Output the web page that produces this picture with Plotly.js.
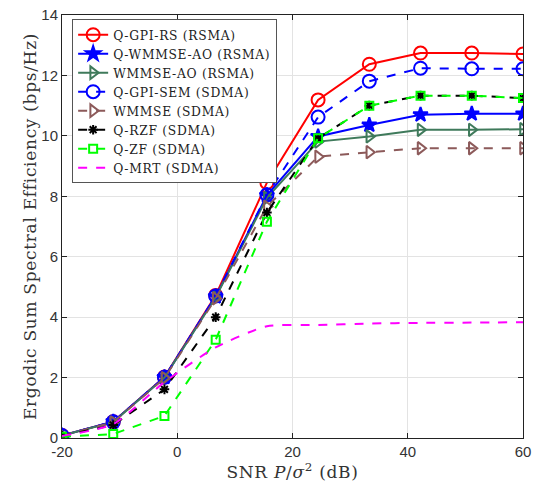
<!DOCTYPE html>
<html><head><meta charset="utf-8">
<script src="https://cdn.plot.ly/plotly-3.0.1.min.js"></script>
<style>
body{margin:0;background:#fff}#c{width:535px;height:485px}
.legendtext{letter-spacing:0.7px}
.g-ytitle text,.g-xtitle text{letter-spacing:0.7px}
</style>
</head><body><div id="c"></div>
<script>
const snr = [-20, -11.11, -2.22, 6.67, 15.56, 24.44, 33.33, 42.22, 51.11, 60];
const qgpiRS     = [0.08, 0.54, 2.02, 4.72, 8.45, 11.19, 12.37, 12.74, 12.74, 12.71];
const qwmmseAO   = [0.08, 0.54, 2.01, 4.68, 8.03, 9.98, 10.36, 10.70, 10.73, 10.73];
const wmmseAO    = [0.08, 0.53, 2.00, 4.66, 7.95, 9.81, 9.98, 10.20, 10.20, 10.22];
const qgpiSEM    = [0.08, 0.54, 2.01, 4.70, 8.05, 10.62, 11.81, 12.24, 12.22, 12.22];
const wmmseSDMA  = [0.08, 0.52, 1.98, 4.62, 7.66, 9.31, 9.46, 9.59, 9.59, 9.59];
const qrzf       = [0.07, 0.43, 1.61, 4.00, 7.46, 9.92, 11.00, 11.33, 11.33, 11.25];
const qzf        = [0.04, 0.13, 0.73, 3.25, 7.16, 9.92, 11.00, 11.33, 11.33, 11.25];
const qmrt       = [0.07, 0.46, 1.85, 3.00, 3.70, 3.74, 3.79, 3.81, 3.82, 3.83];
const names = ['Q-GPI-RS (RSMA)','Q-WMMSE-AO (RSMA)','WMMSE-AO (RSMA)','Q-GPI-SEM (SDMA)','WMMSE (SDMA)','Q-RZF (SDMA)','Q-ZF (SDMA)','Q-MRT (SDMA)'];

function tr(y, name, color, dash, symbol, msize){
  return {x: snr, y: y, name: name, type:'scatter', mode: 'lines+markers',
    line:{color:color, width:2, dash:dash},
    marker:{symbol:symbol, size:msize, color:color, line:{color:color, width:2}}};
}
const traces = [
  tr(qgpiRS, names[0], '#ff0000', 'solid', 'circle-open', 13),
  tr(qwmmseAO, names[1], '#0000ff', 'solid', 'star', 11),
  tr(wmmseAO, names[2], '#3f7a5b', 'solid', 'triangle-right-open', 11),
  tr(qgpiSEM, names[3], '#0000ff', 'dash', 'circle-open', 13),
  tr(wmmseSDMA, names[4], '#8c5a5a', 'dash', 'triangle-right-open', 11),
  tr(qrzf, names[5], '#000000', 'dash', 'asterisk-open', 8),
  tr(qzf, names[6], '#00ff00', 'dash', 'square-open', 8),
  {x: snr, y: qmrt, name: names[7], type:'scatter', mode:'lines',
   line:{color:'#ff00ff', width:2, dash:'dash', shape:'spline', smoothing:0.6}}
];
const serif = 'DejaVu Serif, serif';
const layout = {
  width:535, height:485,
  margin:{l:62, r:12, t:15, b:47},
  paper_bgcolor:'#fff', plot_bgcolor:'#fff',
  showlegend:true,
  legend:{x:0.022, y:0.99, xanchor:'left', yanchor:'top', bgcolor:'#fff', bordercolor:'#555', borderwidth:1,
    font:{family:serif, size:12.3, color:'#222'}, tracegroupgap:0, itemwidth:30},
  xaxis:{range:[-20,60], tickvals:[-20,0,20,40,60], ticktext:['-20','0','20','40','60'],
    showgrid:true, gridcolor:'#e3e3e3', zeroline:false, showline:true, linecolor:'#222', linewidth:1, mirror:'ticks',
    ticks:'inside', ticklen:5, tickcolor:'#222',
    tickfont:{family:'Liberation Sans, Arial, sans-serif', size:15, color:'#333'},
    title:{text:'SNR <i>P</i>/<i>σ</i><sup>2</sup> (dB)', font:{family:serif, size:17, color:'#333'}, standoff:6}},
  yaxis:{range:[0,14], tickvals:[0,2,4,6,8,10,12,14],
    showgrid:true, gridcolor:'#e3e3e3', zeroline:false, showline:true, linecolor:'#222', linewidth:1, mirror:'ticks',
    ticks:'inside', ticklen:5, tickcolor:'#222',
    tickfont:{family:'Liberation Sans, Arial, sans-serif', size:15, color:'#333'},
    title:{text:'Ergodic Sum Spectral Efficiency (bps/Hz)', font:{family:serif, size:17, color:'#333'}, standoff:0}}
};
Plotly.newPlot('c', traces, layout, {displayModeBar:false, staticPlot:true});
</script></body></html>
